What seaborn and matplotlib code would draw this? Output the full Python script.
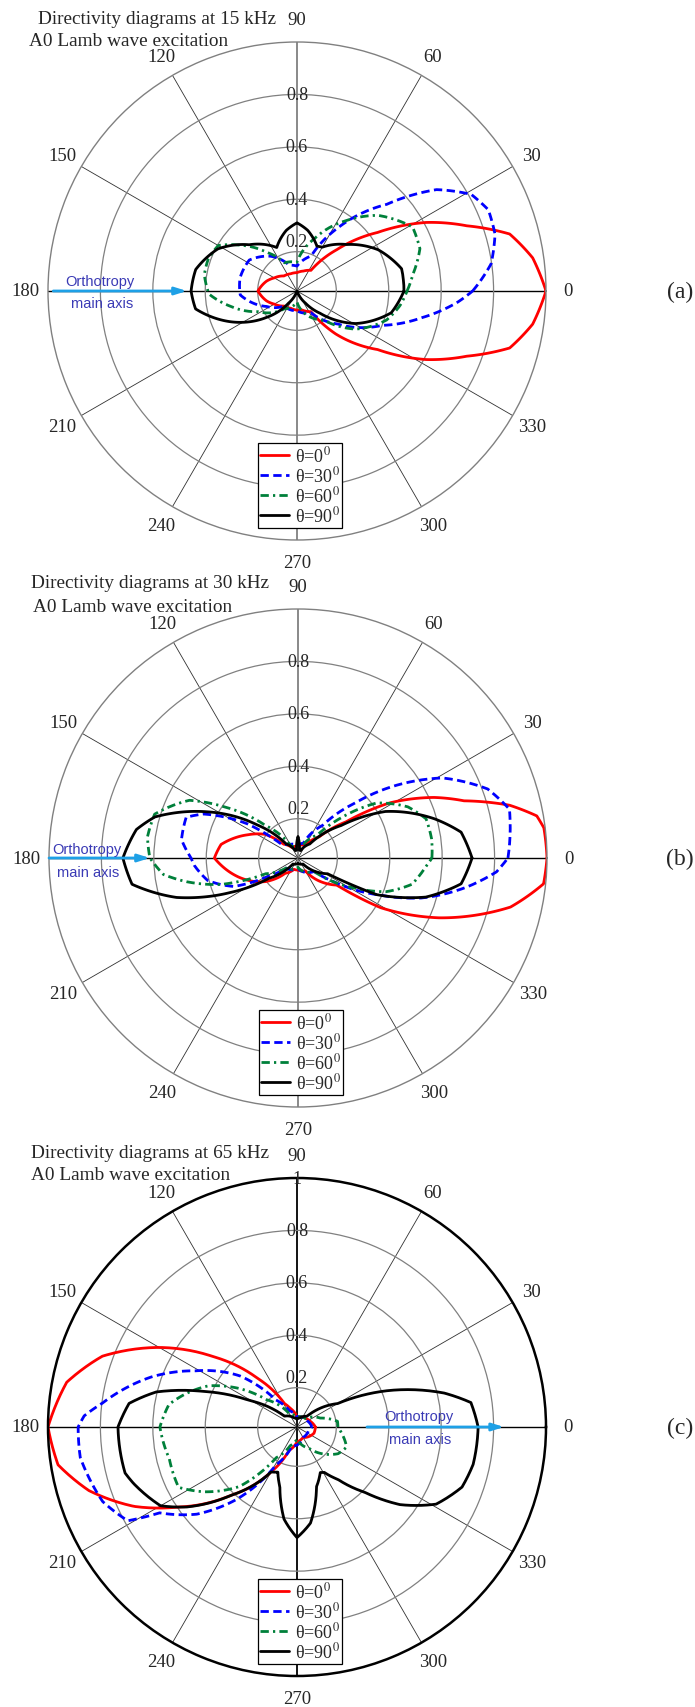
import numpy as np
import pandas as pd
import seaborn as sns
import matplotlib.pyplot as plt

sns.set_style("white")
plt.rcParams["font.family"] = ["Liberation Serif", "DejaVu Serif"]
plt.rcParams["mathtext.fontset"] = "stix"

# Series definitions
SERIES = ["t0", "t30", "t60", "t90"]
LEGEND_LABELS = [r"θ=0$^0$", r"θ=30$^0$", r"θ=60$^0$", r"θ=90$^0$"]
COLORS = {"t0": "#ff0000", "t30": "#0000ff", "t60": "#00803a", "t90": "#000000"}
DASHES = {"t0": "", "t30": (3, 1.6), "t60": (3, 1.5, 0.8, 1.5), "t90": ""}

FREQS = ["15", "30", "65"]
PANEL_TAGS = ["(a)", "(b)", "(c)"]
THETA_LABELS = [str(a) for a in range(0, 360, 30)]
R_TICKS = [0.2, 0.4, 0.6, 0.8]

# ---- panel (a): 15 kHz  (angle in degrees, normalised amplitude)
a_red_deg = [0, 8, 15, 21, 28, 36, 46, 56, 72, 90, 110, 131, 150, 162, 180, 198, 210, 229, 250, 285, 304, 312, 324, 332, 339, 345, 352]
a_red_r = [1.0, 0.958, 0.89, 0.744, 0.607, 0.43, 0.27, 0.145, 0.13, 0.12, 0.12, 0.126, 0.15, 0.172, 0.199, 0.172, 0.15, 0.126, 0.12, 0.125, 0.145, 0.27, 0.43, 0.607, 0.744, 0.89, 0.958]
a_blue_deg = [0, 8, 16, 23, 29, 36, 44, 57, 68, 90, 107, 127, 147, 167, 184, 207, 229, 270, 303, 321, 338, 348, 356]
a_blue_r = [0.72, 0.798, 0.836, 0.843, 0.81, 0.708, 0.526, 0.338, 0.194, 0.145, 0.153, 0.216, 0.267, 0.273, 0.267, 0.18, 0.126, 0.126, 0.149, 0.25, 0.40, 0.538, 0.664]
a_green_deg = [0, 8, 19, 29, 43, 55, 71, 90, 114, 128, 141, 150, 160, 170, 182, 193, 208, 234, 270, 313, 327, 342, 352]
a_green_r = [0.47, 0.496, 0.546, 0.554, 0.473, 0.378, 0.264, 0.16, 0.168, 0.237, 0.328, 0.397, 0.41, 0.409, 0.386, 0.31, 0.218, 0.134, 0.092, 0.203, 0.317, 0.409, 0.447]
a_black_deg = [0, 12, 27, 43, 60, 66, 80, 90, 100, 115, 136, 152, 168, 180, 190, 205, 221, 235, 250, 270, 290, 305, 316, 331, 347]
a_black_r = [0.458, 0.458, 0.397, 0.31, 0.243, 0.237, 0.285, 0.31, 0.285, 0.233, 0.304, 0.392, 0.445, 0.454, 0.443, 0.328, 0.203, 0.107, 0.05, 0.05, 0.05, 0.107, 0.172, 0.306, 0.419]

# ---- panel (b): 30 kHz
b_red_deg = [0, 7, 10, 14, 19, 24, 31, 37, 45, 60, 90, 120, 136, 144, 155, 170, 180, 198, 216, 230, 250, 270, 300, 325, 329, 337, 347, 354]
b_red_r = [1.0, 0.995, 0.975, 0.882, 0.72, 0.618, 0.458, 0.279, 0.164, 0.107, 0.096, 0.096, 0.126, 0.203, 0.26, 0.348, 0.369, 0.287, 0.203, 0.126, 0.096, 0.096, 0.107, 0.23, 0.418, 0.634, 0.882, 0.992]
b_blue_deg = [0, 13, 20, 29, 36, 44, 53, 70, 90, 120, 140, 146, 155, 160, 171, 180, 184, 194, 204, 211, 220, 270, 320, 326, 335, 342, 350, 356]
b_blue_r = [0.851, 0.878, 0.82, 0.68, 0.527, 0.351, 0.206, 0.11, 0.1, 0.11, 0.126, 0.283, 0.447, 0.504, 0.5, 0.458, 0.447, 0.405, 0.317, 0.191, 0.11, 0.09, 0.13, 0.206, 0.38, 0.544, 0.699, 0.809]
b_green_deg = [0, 8, 17, 25, 35, 43, 50, 70, 90, 120, 135, 145, 152, 163, 172, 180, 187, 192, 199, 206, 220, 270, 320, 332, 339, 347, 356]
b_green_r = [0.561, 0.565, 0.561, 0.512, 0.416, 0.275, 0.164, 0.1, 0.09, 0.1, 0.225, 0.388, 0.519, 0.622, 0.63, 0.615, 0.567, 0.485, 0.36, 0.187, 0.11, 0.085, 0.13, 0.294, 0.409, 0.496, 0.538]
b_black_deg = [0, 9, 16, 28, 37, 50, 70, 80, 90, 100, 110, 130, 141, 153, 164, 170, 180, 189, 198, 207, 215, 230, 270, 310, 332, 335, 343, 351]
b_black_r = [0.714, 0.68, 0.592, 0.428, 0.256, 0.12, 0.08, 0.08, 0.132, 0.08, 0.08, 0.12, 0.251, 0.438, 0.618, 0.676, 0.718, 0.691, 0.537, 0.34, 0.184, 0.08, 0.07, 0.08, 0.178, 0.38, 0.56, 0.68]

# ---- panel (c): 65 kHz
c_red_deg = [0, 20, 45, 90, 110, 118, 129, 140, 150, 160, 169, 180, 189, 197, 206, 214, 226, 240, 251, 270, 300, 340]
c_red_r = [0.12, 0.107, 0.096, 0.088, 0.126, 0.151, 0.289, 0.468, 0.657, 0.84, 0.945, 1.0, 0.973, 0.88, 0.741, 0.596, 0.412, 0.248, 0.145, 0.107, 0.096, 0.119]
c_blue_deg = [0, 30, 90, 115, 128, 138, 151, 161, 173, 177, 180, 188, 201, 209, 212, 221, 230, 241, 255, 270, 300, 340]
c_blue_r = [0.107, 0.096, 0.088, 0.119, 0.181, 0.34, 0.492, 0.637, 0.798, 0.863, 0.885, 0.885, 0.844, 0.788, 0.668, 0.557, 0.412, 0.216, 0.126, 0.119, 0.096, 0.096]
c_green_deg = [0, 8, 21, 45, 90, 120, 138, 146, 155, 163, 170, 180, 194, 207, 215, 226, 236, 250, 270, 300, 327, 338, 352]
c_green_r = [0.206, 0.206, 0.145, 0.096, 0.088, 0.107, 0.205, 0.311, 0.422, 0.49, 0.546, 0.573, 0.552, 0.557, 0.481, 0.365, 0.191, 0.126, 0.096, 0.145, 0.237, 0.254, 0.222]
c_black_deg = [0, 8, 13, 22, 30, 47, 70, 90, 110, 139, 151, 159, 166, 172, 180, 195, 199, 210, 216, 226, 240, 247, 254, 262, 270, 278, 288, 297, 301, 308, 316, 323, 331, 340, 348]
c_black_r = [0.741, 0.72, 0.626, 0.419, 0.229, 0.106, 0.088, 0.08, 0.088, 0.113, 0.26, 0.428, 0.603, 0.697, 0.733, 0.729, 0.71, 0.651, 0.569, 0.412, 0.248, 0.237, 0.287, 0.405, 0.472, 0.42, 0.29, 0.245, 0.252, 0.304, 0.408, 0.542, 0.657, 0.72, 0.737]

PANELS = [
    [(a_red_deg, a_red_r), (a_blue_deg, a_blue_r), (a_green_deg, a_green_r), (a_black_deg, a_black_r)],
    [(b_red_deg, b_red_r), (b_blue_deg, b_blue_r), (b_green_deg, b_green_r), (b_black_deg, b_black_r)],
    [(c_red_deg, c_red_r), (c_blue_deg, c_blue_r), (c_green_deg, c_green_r), (c_black_deg, c_black_r)],
]

# layout in pixels (figure is 695 x 1708)
W, H = 695, 1708
CX = [297, 298, 297]
CY = [292, 859, 1428]
RAD = 249
R_MIN, R_MAX = 0.05, 1.0

# "Orthotropy main axis" arrows: angle (deg), r start, r end ; text centres (px)
ARROWS = [(180, 0.98, 0.47), (180, 1.0, 0.615), (0, 0.317, 0.84)]
ORTHO_TXT = [((100, 282), (102, 304)), ((87, 850), (88, 873)), ((419, 1417), (420, 1440))]
TITLE_POS = [((38, 19), (29, 42)), ((31, 584), (33, 607)), ((31, 1153), (31, 1175))]

fig = plt.figure(figsize=(W / 100, H / 100), dpi=100)

for i in range(3):
    left = (CX[i] - RAD) / W
    bottom = 1 - (CY[i] + RAD) / H
    ax = fig.add_axes([left, bottom, 2 * RAD / W, 2 * RAD / H], projection="polar")

    rows = []
    for name, (deg, r) in zip(SERIES, PANELS[i]):
        phi = np.deg2rad(list(deg) + [360])
        rr = list(r) + [r[0]]
        rows.append(pd.DataFrame({"phi": phi, "r": rr, "series": name}))
    df = pd.concat(rows, ignore_index=True)

    sns.lineplot(data=df, x="phi", y="r", hue="series", style="series",
                 palette=COLORS, dashes=DASHES, sort=False, estimator=None,
                 lw=2, legend=False, ax=ax)
    # draw segments along the polar grid (curved) instead of straight chords
    for ln in ax.lines:
        ln.get_path()._interpolation_steps = 40
        ln.set_solid_joinstyle("round")
    ax.set_xlabel("")
    ax.set_ylabel("")

    ax.set_rlim(R_MIN, R_MAX)
    ax.set_xticks(np.deg2rad(np.arange(0, 360, 30)))
    ax.set_xticklabels([])
    ax.set_yticks(R_TICKS)
    ax.set_yticklabels([])
    ax.grid(True)
    ax.yaxis.grid(True, color="#808080", lw=0.9)
    ax.xaxis.grid(True, color="#303030", lw=0.6)
    gl = ax.xaxis.get_gridlines()
    for k in (0, 6):
        gl[k].set_color("black")
        gl[k].set_linewidth(1.0)
    for k in (3, 9):
        gl[k].set_color("black" if i == 2 else "#808080")
        gl[k].set_linewidth(1.3)
    ax.spines["polar"].set_color("black" if i == 2 else "#808080")
    ax.spines["polar"].set_linewidth(1.8 if i == 2 else 1.0)

    # angle labels
    for a, lab in zip(range(0, 360, 30), THETA_LABELS):
        ax.text(np.deg2rad(a), 1.085, lab, ha="center", va="center",
                fontsize=13.5, clip_on=False)
    # radial labels
    for rt in R_TICKS:
        ax.text(np.pi / 2, rt + (0.04 if rt == 0.2 else 0.0), f"{rt:.1f}",
                ha="center", va="center", fontsize=13)
    if i == 2:
        ax.text(np.pi / 2, 1.0, "1", ha="center", va="center", fontsize=13)

    # legend
    leg = ax.legend(ax.lines[:4], LEGEND_LABELS, loc="lower center",
                    bbox_to_anchor=(0.506, 0.024), borderaxespad=0,
                    fontsize=13, frameon=True, fancybox=False, framealpha=1,
                    edgecolor="black", handlelength=1.6, handletextpad=0.3,
                    labelspacing=0.0, borderpad=0.15)
    leg.get_frame().set_linewidth(0.9)

    # orthotropy arrow
    ang, r0, r1 = ARROWS[i]
    ax.annotate("", xy=(np.deg2rad(ang), r1), xytext=(np.deg2rad(ang), r0),
                arrowprops=dict(arrowstyle="-|>,head_length=0.7,head_width=0.22",
                                color="#1ea0e6", lw=2, shrinkA=0, shrinkB=0),
                annotation_clip=False)
    (tx1, ty1), (tx2, ty2) = ORTHO_TXT[i]
    fig.text(tx1 / W, 1 - ty1 / H, "Orthotropy", ha="center", va="center",
             fontsize=10.5, color="#3a3ab5", family="Liberation Sans")
    fig.text(tx2 / W, 1 - ty2 / H, "main axis", ha="center", va="center",
             fontsize=10.5, color="#3a3ab5", family="Liberation Sans")

    # titles and panel tag
    (x1, y1), (x2, y2) = TITLE_POS[i]
    fig.text(x1 / W, 1 - y1 / H, f"Directivity diagrams at {FREQS[i]} kHz",
             ha="left", va="center", fontsize=13.9)
    fig.text(x2 / W, 1 - y2 / H, "A0 Lamb wave excitation",
             ha="left", va="center", fontsize=13.9)
    fig.text(680 / W, 1 - CY[i] / H, PANEL_TAGS[i], ha="center", va="center",
             fontsize=17)

fig.savefig("out.png", dpi=100, facecolor="white")
